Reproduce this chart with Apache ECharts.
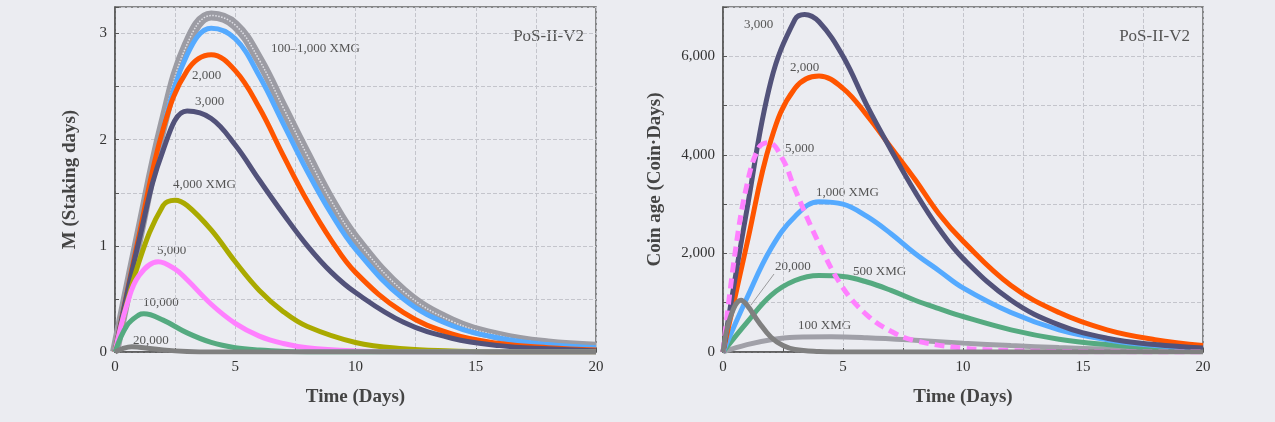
<!DOCTYPE html>
<html>
<head>
<meta charset="utf-8">
<script src="https://cdn.jsdelivr.net/npm/echarts@6/dist/echarts.min.js"></script>
<style>html,body{margin:0;background:#ebecf1;}#chart{width:1275px;height:422px;}</style>
</head>
<body>
<div id="chart"></div>
<script>
// left panel: M (staking days) vs time
const mBand = [[0,0],[1,1.1],[2,2.15],[3,2.9],[4,3.17],[5,3.08],[6,2.75],[7,2.3],[8,1.85],[9,1.42],[10,1.07],[12,0.57],[14,0.29],[16,0.15],[18,0.08],[20,0.05]];
const m1000 = [[0,0],[1,1.1],[2,2.1],[3,2.8],[4,3.05],[5,2.95],[6,2.6],[7,2.15],[8,1.7],[9,1.3],[10,0.97],[12,0.5],[14,0.25],[16,0.13],[18,0.07],[20,0.04]];
const m2000 = [[0,0],[1,1.1],[2,2.1],[3,2.65],[4,2.8],[5,2.65],[6,2.3],[7,1.85],[8,1.42],[9,1.05],[10,0.75],[12,0.37],[14,0.17],[16,0.08],[18,0.04],[20,0.02]];
const m3000 = [[0,0],[1,1.05],[2,1.9],[3,2.27],[4,2.2],[5,1.95],[6,1.62],[7,1.3],[8,1.0],[9,0.75],[10,0.56],[12,0.28],[14,0.13],[16,0.06],[18,0.03],[20,0.01]];
const m4000 = [[0,0],[1,0.85],[2,1.38],[2.5,1.43],[3,1.38],[4,1.15],[5,0.85],[6,0.58],[7,0.38],[8,0.24],[10,0.09],[12,0.03],[14,0.01],[16,0],[20,0]];
const m5000 = [[0,0],[0.5,0.45],[1,0.72],[1.8,0.85],[2.5,0.78],[3,0.68],[4,0.45],[5,0.27],[6,0.15],[7,0.08],[8,0.04],[10,0.01],[12,0],[20,0]];
const m10000 = [[0,0],[0.5,0.25],[1,0.35],[1.2,0.36],[2,0.3],[3,0.18],[4,0.09],[5,0.04],[6,0.02],[8,0],[20,0]];
const m20000 = [[0,0],[0.3,0.03],[0.7,0.05],[1,0.045],[2,0.02],[3,0.005],[4,0],[20,0]];

// right panel: coin age vs time
const c3000 = [[0,0],[1,2900],[2,5500],[3,6750],[3.4,6850],[4,6700],[5,6000],[6,5000],[7,4100],[8,3250],[9,2500],[10,1900],[12,1050],[14,550],[16,280],[18,150],[20,80]];
const c2000 = [[0,0],[1,2200],[2,4300],[3,5350],[4,5600],[5,5350],[6,4800],[7,4150],[8,3500],[9,2800],[10,2250],[12,1350],[14,800],[16,450],[18,250],[20,130]];
const c5000 = [[0,0],[0.5,2000],[1,3400],[1.5,4150],[1.9,4250],[2.5,3900],[3,3300],[4,2200],[5,1300],[6,750],[7,420],[8,230],[10,80],[12,30],[14,10],[20,0]];
const c1000 = [[0,0],[1,1100],[2,2100],[3,2750],[4,3050],[5,3000],[6,2750],[7,2400],[8,2000],[9,1650],[10,1300],[12,800],[14,450],[16,250],[18,130],[20,70]];
const c500 = [[0,0],[1,600],[2,1150],[3,1450],[4,1550],[5,1530],[6,1420],[7,1250],[8,1050],[9,880],[10,720],[12,450],[14,260],[16,150],[18,80],[20,45]];
const c100 = [[0,0],[1,150],[2,250],[3,300],[4.5,310],[6,290],[8,240],[10,180],[12,130],[14,90],[16,60],[18,40],[20,25]];
const c20000 = [[0,0],[0.3,700],[0.75,1050],[1,950],[1.5,600],[2,300],[2.5,130],[3,50],[4,10],[5,0],[20,0]];

const font = 'Liberation Serif';
const chart = echarts.init(document.getElementById('chart'));

function xAxis(gi) {
    return {
        gridIndex: gi, type: 'value', min: 0, max: 20, interval: 2.5,
        name: 'Time (Days)', nameLocation: 'middle', nameGap: 36,
        nameTextStyle: {fontFamily: font, fontSize: 19, fontWeight: 'bold', color: '#444'},
        axisLine: {onZero: false, lineStyle: {color: '#555', width: 1.5}},
        axisTick: {inside: true, length: 4, lineStyle: {color: '#555'}},
        axisLabel: {fontFamily: font, fontSize: 15, color: '#333',
            formatter: v => v % 5 === 0 ? String(v) : ''},
        splitLine: {lineStyle: {color: '#c4c5cc', type: 'dashed'}}
    };
}
function yAxis(gi, max, interval, name, fmt) {
    return {
        gridIndex: gi, type: 'value', min: 0, max: max, interval: interval,
        name: name, nameLocation: 'middle', nameGap: gi ? 58 : 35,
        nameTextStyle: {fontFamily: font, fontSize: 19, fontWeight: 'bold', color: '#444'},
        axisLine: {show: true, lineStyle: {color: '#555', width: 1.5}},
        axisTick: {inside: true, length: 4, lineStyle: {color: '#555'}},
        axisLabel: {fontFamily: font, fontSize: 15, color: '#333', formatter: fmt},
        splitLine: {lineStyle: {color: '#c4c5cc', type: 'dashed'}}
    };
}
function line(data, color, gi, width, type) {
    return {
        type: 'line', xAxisIndex: gi, yAxisIndex: gi, data: data, smooth: 0.4,
        showSymbol: false, silent: true,
        lineStyle: {color: color, width: width || 5, type: type || 'solid'}
    };
}
function label(x, y, text) {
    return {type: 'text', left: x, top: y,
        style: {text: text, fontFamily: font, fontSize: 13, fill: '#555'}};
}

chart.setOption({
    backgroundColor: '#ebecf1',
    animation: false,
    grid: [
        {left: 115, top: 7, width: 481, height: 345, show: true, borderColor: '#666', borderWidth: 1.5},
        {left: 723, top: 7, width: 480, height: 345, show: true, borderColor: '#666', borderWidth: 1.5}
    ],
    xAxis: [xAxis(0), xAxis(1)],
    yAxis: [
        yAxis(0, 3.25, 0.5, 'M (Staking days)', v => v % 1 === 0 ? String(v) : ''),
        yAxis(1, 7000, 1000, 'Coin age (Coin\u00b7Days)', v => v % 2000 === 0 ? v.toLocaleString('en-US') : '')
    ],
    series: [
        line(mBand, '#9c9ca4', 0, 10),
        line(mBand, '#e0e0e6', 0, 1.5, 'dotted'),
        line(m1000, '#55aaff', 0),
        line(m2000, '#ff5500', 0),
        line(m3000, '#52527a', 0),
        line(m4000, '#aaaa00', 0),
        line(m5000, '#ff80ff', 0),
        line(m10000, '#55aa80', 0),
        line(m20000, '#808080', 0),
        line(c100, '#a0a0a8', 1),
        line(c500, '#55aa80', 1),
        line(c1000, '#55aaff', 1),
        line(c2000, '#ff5500', 1),
        line(c3000, '#52527a', 1),
        line(c5000, '#ff80ff', 1, 5, [10, 6]),
        line(c20000, '#808080', 1)
    ],
    graphic: [
        {type: 'text', right: 1275 - 584, top: 28, style: {text: 'PoS-II-V2', fontFamily: font, fontSize: 17, fill: '#555'}},
        {type: 'text', right: 1275 - 1190, top: 28, style: {text: 'PoS-II-V2', fontFamily: font, fontSize: 17, fill: '#555'}},
        label(271, 42, '100\u20131,000 XMG'),
        label(192, 69, '2,000'),
        label(195, 95, '3,000'),
        label(173, 178, '4,000 XMG'),
        label(157, 244, '5,000'),
        label(143, 296, '10,000'),
        label(133, 334, '20,000'),
        label(744, 18, '3,000'),
        label(790, 61, '2,000'),
        label(785, 142, '5,000'),
        label(816, 186, '1,000 XMG'),
        label(775, 260, '20,000'),
        label(853, 265, '500 XMG'),
        label(798, 319, '100 XMG'),
        {type: 'line', shape: {x1: 751, y1: 305, x2: 774, y2: 274}, style: {stroke: '#777', lineWidth: 0.7}}
    ]
});
</script>
</body>
</html>
